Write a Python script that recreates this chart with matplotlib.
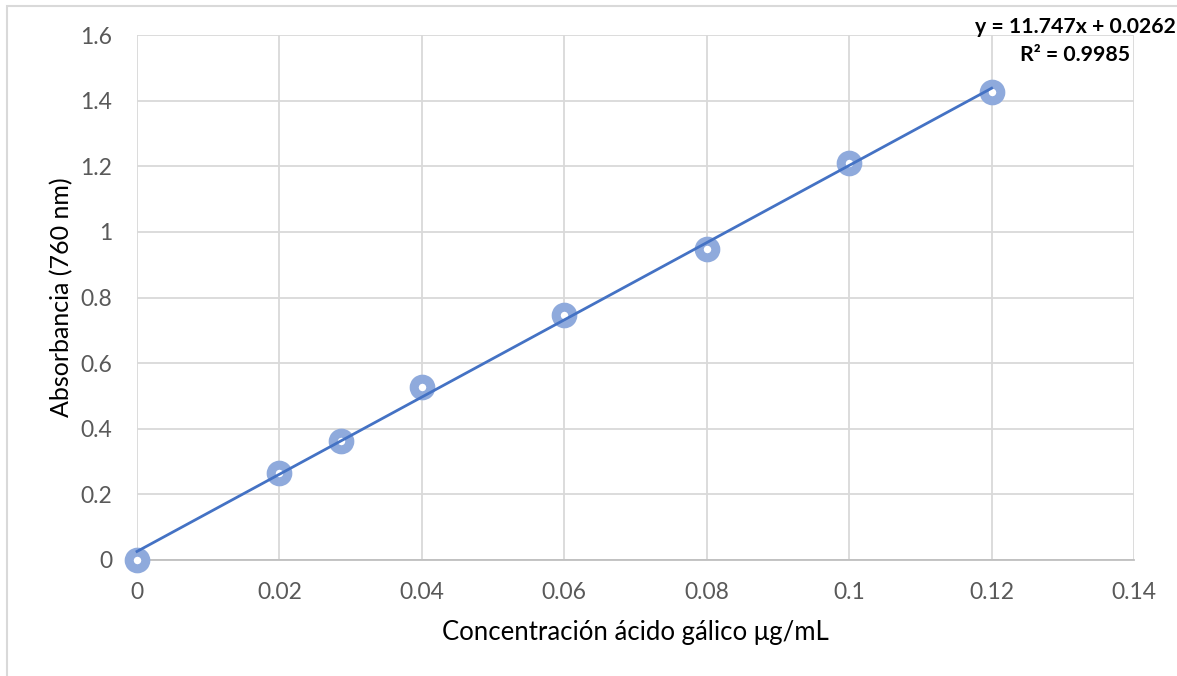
import numpy as np
import matplotlib
matplotlib.use("Agg")
import matplotlib.pyplot as plt
from matplotlib.patches import Rectangle

plt.rcParams['font.family'] = ['Lato', 'DejaVu Sans']

conc = [0, 0.02, 0.0286, 0.04, 0.06, 0.08, 0.1, 0.12]
absorb = [0.0, 0.265, 0.363, 0.527, 0.748, 0.947, 1.209, 1.427]
eq_text = "y = 11.747x + 0.0262\nR² = 0.9985"

slope, intercept = np.polyfit(conc, absorb, 1)
xfit = np.array([min(conc), max(conc)])

fig = plt.figure(figsize=(11.77, 6.76), dpi=100)
ax = fig.add_axes([0.1164, 0.1716, 0.8471, 0.7766])

# excel chart frame
fig.patches.append(Rectangle((0.006, -0.05), 1.2, 1.041, transform=fig.transFigure,
                             fill=False, edgecolor='#D9D9D9', linewidth=1.5))

ax.plot(conc, absorb, 'o', ms=12, mew=6.5, mfc='white', mec='#8FAADC', zorder=3, clip_on=False)
ax.plot(xfit, slope * xfit + intercept, color='#4472C4', lw=2.0, zorder=4, clip_on=False)

ax.set_xlim(0, 0.14)
ax.set_ylim(0, 1.6)
ax.set_xticks(np.arange(0, 0.141, 0.02))
ax.set_yticks(np.arange(0, 1.61, 0.2))
ax.set_xticklabels(['0', '0.02', '0.04', '0.06', '0.08', '0.1', '0.12', '0.14'])
ax.set_yticklabels(['0', '0.2', '0.4', '0.6', '0.8', '1', '1.2', '1.4', '1.6'])
ax.grid(color='#D9D9D9', lw=1.3)
ax.set_axisbelow(True)
for s in ['left', 'right', 'top']:
    ax.spines[s].set_visible(False)
ax.spines['bottom'].set_color('#BFBFBF')
ax.spines['bottom'].set_linewidth(1.3)
ax.tick_params(length=0, labelsize=16.5, labelcolor='#595959')
ax.tick_params(axis='x', pad=16)
ax.tick_params(axis='y', pad=18)

ax.set_xlabel('Concentración ácido gálico μg/mL', fontsize=18.5, labelpad=12)
ax.set_ylabel('Absorbancia (760 nm)', fontsize=18, labelpad=5)

fig.text(1075 / 1177, 1 - 41 / 676, eq_text, ha='center', va='center',
         fontsize=15.3, fontweight='bold', linespacing=1.55)

fig.savefig('out.png', dpi=100)
